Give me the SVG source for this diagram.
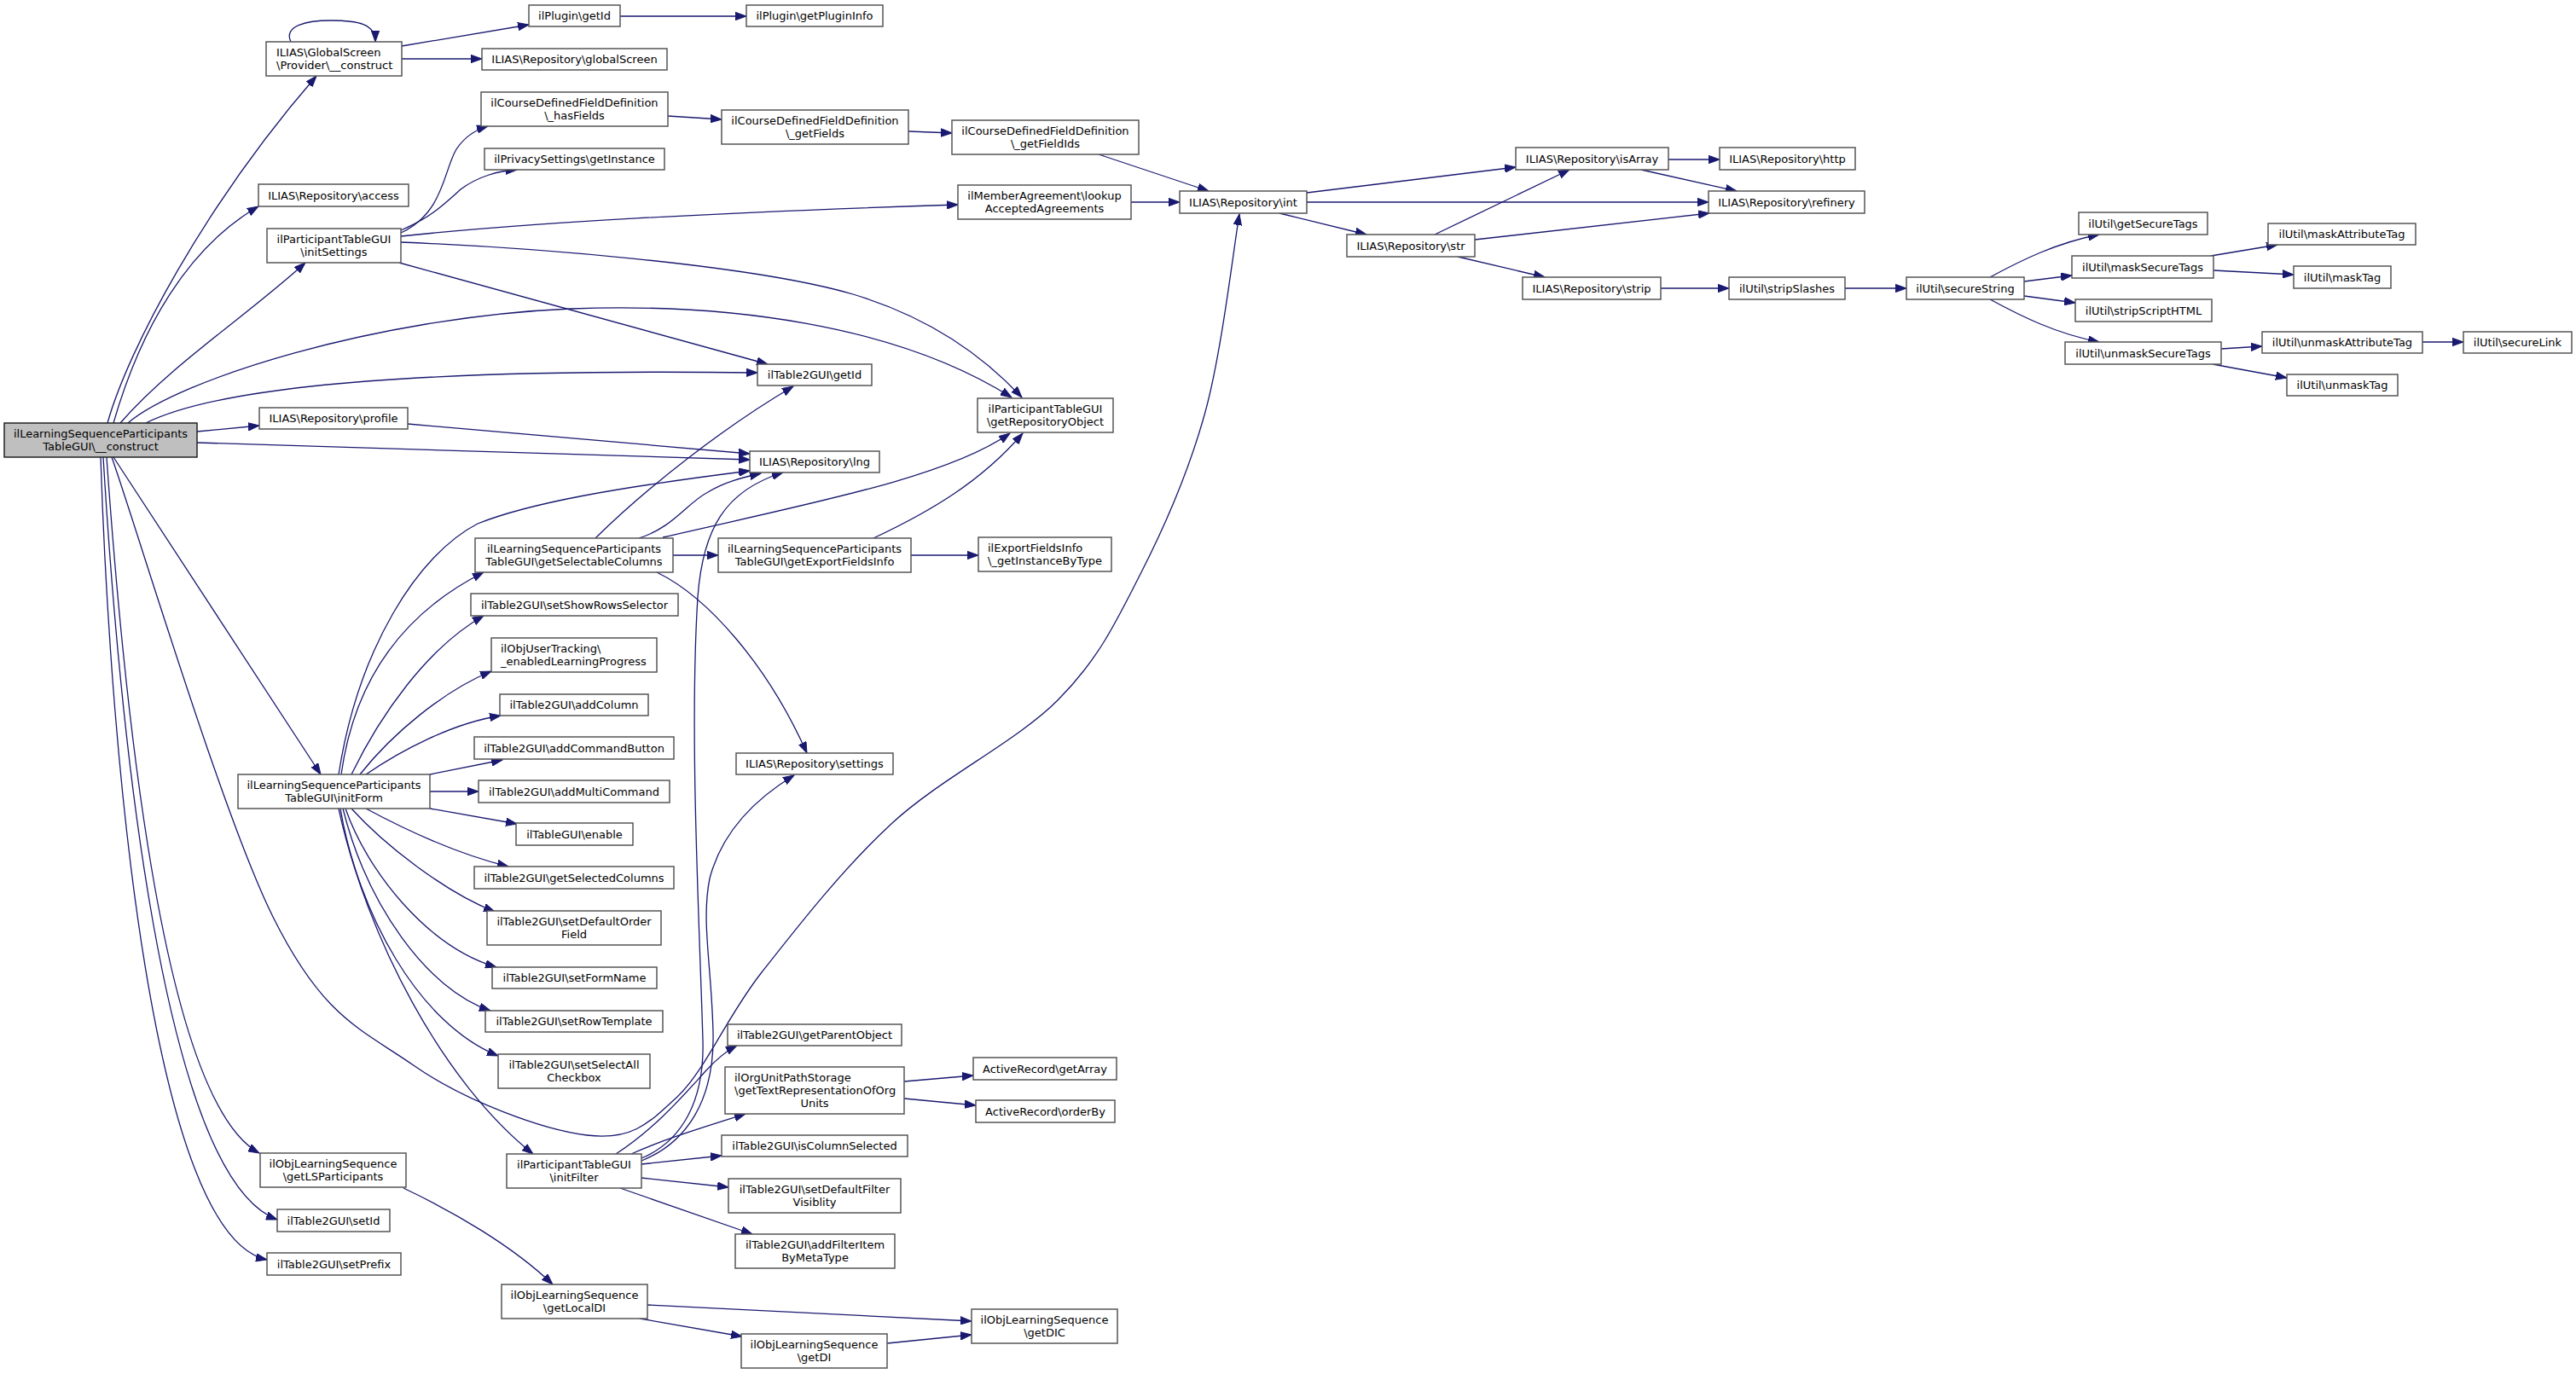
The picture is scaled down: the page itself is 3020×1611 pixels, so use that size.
<svg xmlns="http://www.w3.org/2000/svg" width="3020" height="1611" viewBox="0 0 3020 1611">
<style>
.n rect{fill:#ffffff;stroke:#555555;stroke-width:1.5}
.r rect{fill:#bfbfbf;stroke:#222222;stroke-width:1.5}
text{font-family:"DejaVu Sans","Liberation Sans",sans-serif;font-size:13px;fill:#000}
.c{text-anchor:middle}
#edges path{fill:none;stroke:#191970;stroke-width:1.3;marker-end:url(#a)}
</style>
<defs>
<marker id="a" markerUnits="userSpaceOnUse" markerWidth="14" markerHeight="10" refX="13" refY="5" orient="auto" viewBox="0 0 14 10">
<path d="M0,0.3 L13,5 L0,9.7 Z" fill="#191970" stroke="#191970" stroke-width="1"/>
</marker>
</defs>
<rect x="0" y="0" width="3020" height="1611" fill="#ffffff"/>
<g id="edges">
<path d="M126,496 C150,410 240,240 371,89"/>
<path d="M133,496 C165,385 220,290 303,242"/>
<path d="M141,496 C200,428 290,370 358,308"/>
<path d="M150,496 C210,445 440,372 669,362 C850,355 1050,380 1186,466"/>
<path d="M171,496 C260,452 500,432 888,437"/>
<path d="M231,506 L304,499"/>
<path d="M231,519 L879,539"/>
<path d="M133,536 L376,908"/>
<path d="M125,536 C145,820 190,1290 304,1352"/>
<path d="M121,536 C140,850 190,1380 325,1430"/>
<path d="M118,536 C130,900 180,1450 313,1477"/>
<path d="M131,536 C162.5,625.8 261,956.2 320,1075 C379,1193.8 423.4,1206.3 484.7,1249 C546,1291.7 636.6,1324.7 688,1331 C739.4,1337.3 758.8,1318.8 793,1287 C827.2,1255.2 850.8,1193.7 893,1140 C935.2,1086.3 988.2,1018.2 1046,965 C1103.8,911.8 1191.5,869.7 1240,821 C1288.5,772.3 1308.2,729.3 1337,673 C1365.8,616.7 1393.7,553.2 1413,483 C1432.3,412.8 1446.3,290.5 1453,251"/>
<path d="M341,49 C332,30 360,24 388,24 C420,24 440,28 440,49"/>
<path d="M471,54 L620,29"/>
<path d="M471,69 L565,69"/>
<path d="M727,19 L875,19"/>
<path d="M470,273 C520,250 520,200 535,175 C545,160 558,152 572,148"/>
<path d="M470,270 C505,255 520,240 540,222 C560,207 585,200 606,199"/>
<path d="M470,277 C650,258 900,247 1123,240"/>
<path d="M470,284 C620,290 880,310 1000,345 C1100,375 1160,425 1198,466"/>
<path d="M468,308 L900,427"/>
<path d="M783,136 L846,140"/>
<path d="M1065,154 L1116,156"/>
<path d="M1288,181 L1417,224"/>
<path d="M1326,237 L1383,237"/>
<path d="M1532,226 L1777,196"/>
<path d="M1532,237 L2003,237"/>
<path d="M1500,250 L1602,275"/>
<path d="M1682,275 L1840,199"/>
<path d="M1729,281 L2004,250"/>
<path d="M1709,301 L1811,325"/>
<path d="M1956,187 L2016,187"/>
<path d="M1924,199 L2036,224"/>
<path d="M1947,338 L2027,338"/>
<path d="M2163,338 L2235,338"/>
<path d="M2333,325 C2370,305 2410,285 2461,275"/>
<path d="M2373,330 L2429,323"/>
<path d="M2373,347 L2433,355"/>
<path d="M2333,351 C2370,371 2410,391 2461,401"/>
<path d="M2592,300 L2670,287"/>
<path d="M2595,317 L2689,322"/>
<path d="M2604,409 L2652,406"/>
<path d="M2594,427 L2681,443"/>
<path d="M2840,401 L2888,401"/>
<path d="M478,497 L879,532"/>
<path d="M397,908 C420,760 490,650 560,614 C620,590 720,572 879,552"/>
<path d="M400,908 C415,800 470,720 567,671"/>
<path d="M412,908 C445,840 500,760 567,722"/>
<path d="M422,908 C460,860 520,810 576,787"/>
<path d="M429,908 C470,880 530,848 587,839"/>
<path d="M504,908 L589,891"/>
<path d="M504,928 L561,928"/>
<path d="M504,948 L606,966"/>
<path d="M429,948 C470,970 530,1000 596,1016"/>
<path d="M412,948 C450,990 520,1045 580,1069"/>
<path d="M405,948 C430,1020 500,1110 582,1134"/>
<path d="M402,948 C430,1060 500,1160 575,1185"/>
<path d="M399,948 C420,1070 490,1200 584,1238"/>
<path d="M397,948 C430,1100 520,1270 625,1353"/>
<path d="M698,631 C760,570 850,500 930,453"/>
<path d="M749,631 C790,618 805,590 830,577 C850,565 870,560 892,555"/>
<path d="M777,630 C950,590 1110,560 1184,508"/>
<path d="M1024,631 C1090,600 1150,565 1199,508"/>
<path d="M789,651 L842,651"/>
<path d="M1068,651 L1147,651"/>
<path d="M770,671 C830,700 900,780 946,883"/>
<path d="M752,1358 C800,1338 826,1290 824,1220 C820,1080 808,860 818,700 C824,620 850,575 918,554"/>
<path d="M752,1361 C805,1340 838,1290 836,1210 C834,1130 822,1080 832,1030 C845,980 880,940 931,909"/>
<path d="M722,1353 C770,1322 805,1280 828,1255 C838,1244 850,1233 864,1226"/>
<path d="M740,1353 C780,1335 830,1320 874,1306"/>
<path d="M752,1365 L846,1355"/>
<path d="M752,1381 L854,1392"/>
<path d="M727,1393 L882,1447"/>
<path d="M1060,1268 L1141,1261"/>
<path d="M1060,1288 L1144,1296"/>
<path d="M473,1393 C530,1420 600,1460 648,1506"/>
<path d="M759,1530 L1139,1549"/>
<path d="M750,1546 L870,1567"/>
<path d="M1040,1575 L1139,1565"/>
</g>
<g id="n0" class="r"><rect x="5" y="496" width="226" height="40"/><text class="c" x="118" y="512.5">ilLearningSequenceParticipants</text><text class="c" x="118" y="527.5">TableGUI\__construct</text></g>
<g id="n1" class="n"><rect x="312" y="49" width="159" height="40"/><text x="324" y="65.5">ILIAS\GlobalScreen</text><text x="324" y="80.5">\Provider\__construct</text></g>
<g id="n2" class="n"><rect x="620" y="6" width="107" height="25"/><text class="c" x="673.5" y="23">ilPlugin\getId</text></g>
<g id="n3" class="n"><rect x="565" y="57" width="217" height="25"/><text class="c" x="673.5" y="74">ILIAS\Repository\globalScreen</text></g>
<g id="n4" class="n"><rect x="564" y="108" width="219" height="40"/><text class="c" x="673.5" y="124.5">ilCourseDefinedFieldDefinition</text><text class="c" x="673.5" y="139.5">\_hasFields</text></g>
<g id="n5" class="n"><rect x="568" y="174" width="211" height="25"/><text class="c" x="673.5" y="191">ilPrivacySettings\getInstance</text></g>
<g id="n6" class="n"><rect x="303" y="216" width="176" height="26"/><text class="c" x="391" y="233.5">ILIAS\Repository\access</text></g>
<g id="n7" class="n"><rect x="313" y="268" width="157" height="40"/><text class="c" x="391.5" y="284.5">ilParticipantTableGUI</text><text class="c" x="391.5" y="299.5">\initSettings</text></g>
<g id="n8" class="n"><rect x="304" y="478" width="174" height="25"/><text class="c" x="391" y="495">ILIAS\Repository\profile</text></g>
<g id="n9" class="n"><rect x="875" y="6" width="160" height="25"/><text class="c" x="955" y="23">ilPlugin\getPluginInfo</text></g>
<g id="n10" class="n"><rect x="846" y="129" width="219" height="40"/><text class="c" x="955.5" y="145.5">ilCourseDefinedFieldDefinition</text><text class="c" x="955.5" y="160.5">\_getFields</text></g>
<g id="n11" class="n"><rect x="1116" y="141" width="219" height="40"/><text class="c" x="1225.5" y="157.5">ilCourseDefinedFieldDefinition</text><text class="c" x="1225.5" y="172.5">\_getFieldIds</text></g>
<g id="n12" class="n"><rect x="1123" y="217" width="203" height="40"/><text class="c" x="1224.5" y="233.5">ilMemberAgreement\lookup</text><text class="c" x="1224.5" y="248.5">AcceptedAgreements</text></g>
<g id="n13" class="n"><rect x="1383" y="224" width="149" height="26"/><text class="c" x="1457.5" y="241.5">ILIAS\Repository\int</text></g>
<g id="n14" class="n"><rect x="888" y="427" width="134" height="25"/><text class="c" x="955" y="444">ilTable2GUI\getId</text></g>
<g id="n15" class="n"><rect x="1146" y="467" width="159" height="40"/><text class="c" x="1225.5" y="483.5">ilParticipantTableGUI</text><text class="c" x="1225.5" y="498.5">\getRepositoryObject</text></g>
<g id="n16" class="n"><rect x="879" y="529" width="152" height="25"/><text class="c" x="955" y="546">ILIAS\Repository\lng</text></g>
<g id="n17" class="n"><rect x="1777" y="173" width="179" height="26"/><text class="c" x="1866.5" y="190.5">ILIAS\Repository\isArray</text></g>
<g id="n18" class="n"><rect x="2016" y="173" width="159" height="26"/><text class="c" x="2095.5" y="190.5">ILIAS\Repository\http</text></g>
<g id="n19" class="n"><rect x="2003" y="224" width="183" height="26"/><text class="c" x="2094.5" y="241.5">ILIAS\Repository\refinery</text></g>
<g id="n20" class="n"><rect x="1579" y="275" width="150" height="26"/><text class="c" x="1654" y="292.5">ILIAS\Repository\str</text></g>
<g id="n21" class="n"><rect x="1785" y="325" width="162" height="26"/><text class="c" x="1866" y="342.5">ILIAS\Repository\strip</text></g>
<g id="n22" class="n"><rect x="2027" y="325" width="136" height="26"/><text class="c" x="2095" y="342.5">ilUtil\stripSlashes</text></g>
<g id="n23" class="n"><rect x="2235" y="325" width="138" height="26"/><text class="c" x="2304" y="342.5">ilUtil\secureString</text></g>
<g id="n24" class="n"><rect x="2437" y="249" width="151" height="26"/><text class="c" x="2512.5" y="266.5">ilUtil\getSecureTags</text></g>
<g id="n25" class="n"><rect x="2429" y="300" width="166" height="26"/><text class="c" x="2512" y="317.5">ilUtil\maskSecureTags</text></g>
<g id="n26" class="n"><rect x="2659" y="262" width="173" height="25"/><text class="c" x="2745.5" y="279">ilUtil\maskAttributeTag</text></g>
<g id="n27" class="n"><rect x="2689" y="312" width="114" height="26"/><text class="c" x="2746" y="329.5">ilUtil\maskTag</text></g>
<g id="n28" class="n"><rect x="2433" y="351" width="160" height="26"/><text class="c" x="2513" y="368.5">ilUtil\stripScriptHTML</text></g>
<g id="n29" class="n"><rect x="2421" y="401" width="183" height="26"/><text class="c" x="2512.5" y="418.5">ilUtil\unmaskSecureTags</text></g>
<g id="n30" class="n"><rect x="2652" y="389" width="188" height="25"/><text class="c" x="2746" y="406">ilUtil\unmaskAttributeTag</text></g>
<g id="n31" class="n"><rect x="2888" y="389" width="127" height="25"/><text class="c" x="2951.5" y="406">ilUtil\secureLink</text></g>
<g id="n32" class="n"><rect x="2681" y="439" width="130" height="25"/><text class="c" x="2746" y="456">ilUtil\unmaskTag</text></g>
<g id="n33" class="n"><rect x="557" y="631" width="232" height="40"/><text class="c" x="673" y="647.5">ilLearningSequenceParticipants</text><text class="c" x="673" y="662.5">TableGUI\getSelectableColumns</text></g>
<g id="n34" class="n"><rect x="552" y="696" width="243" height="26"/><text class="c" x="673.5" y="713.5">ilTable2GUI\setShowRowsSelector</text></g>
<g id="n35" class="n"><rect x="576" y="748" width="194" height="40"/><text x="587" y="764.5">ilObjUserTracking\</text><text x="587" y="779.5">_enabledLearningProgress</text></g>
<g id="n36" class="n"><rect x="586" y="814" width="174" height="25"/><text class="c" x="673" y="831">ilTable2GUI\addColumn</text></g>
<g id="n37" class="n"><rect x="556" y="864" width="234" height="26"/><text class="c" x="673" y="881.5">ilTable2GUI\addCommandButton</text></g>
<g id="n38" class="n"><rect x="279" y="908" width="225" height="40"/><text class="c" x="391.5" y="924.5">ilLearningSequenceParticipants</text><text class="c" x="391.5" y="939.5">TableGUI\initForm</text></g>
<g id="n39" class="n"><rect x="561" y="915" width="224" height="26"/><text class="c" x="673" y="932.5">ilTable2GUI\addMultiCommand</text></g>
<g id="n40" class="n"><rect x="605" y="965" width="137" height="26"/><text class="c" x="673.5" y="982.5">ilTableGUI\enable</text></g>
<g id="n41" class="n"><rect x="556" y="1016" width="234" height="26"/><text class="c" x="673" y="1033.5">ilTable2GUI\getSelectedColumns</text></g>
<g id="n42" class="n"><rect x="571" y="1068" width="204" height="40"/><text class="c" x="673" y="1084.5">ilTable2GUI\setDefaultOrder</text><text class="c" x="673" y="1099.5">Field</text></g>
<g id="n43" class="n"><rect x="577" y="1134" width="193" height="25"/><text class="c" x="673.5" y="1151">ilTable2GUI\setFormName</text></g>
<g id="n44" class="n"><rect x="569" y="1185" width="208" height="25"/><text class="c" x="673" y="1202">ilTable2GUI\setRowTemplate</text></g>
<g id="n45" class="n"><rect x="584" y="1236" width="178" height="40"/><text class="c" x="673" y="1252.5">ilTable2GUI\setSelectAll</text><text class="c" x="673" y="1267.5">Checkbox</text></g>
<g id="n46" class="n"><rect x="305" y="1352" width="171" height="40"/><text class="c" x="390.5" y="1368.5">ilObjLearningSequence</text><text class="c" x="390.5" y="1383.5">\getLSParticipants</text></g>
<g id="n47" class="n"><rect x="594" y="1353" width="158" height="40"/><text class="c" x="673" y="1369.5">ilParticipantTableGUI</text><text class="c" x="673" y="1384.5">\initFilter</text></g>
<g id="n48" class="n"><rect x="325" y="1418" width="132" height="26"/><text class="c" x="391" y="1435.5">ilTable2GUI\setId</text></g>
<g id="n49" class="n"><rect x="313" y="1469" width="157" height="26"/><text class="c" x="391.5" y="1486.5">ilTable2GUI\setPrefix</text></g>
<g id="n50" class="n"><rect x="588" y="1506" width="171" height="40"/><text class="c" x="673.5" y="1522.5">ilObjLearningSequence</text><text class="c" x="673.5" y="1537.5">\getLocalDI</text></g>
<g id="n51" class="n"><rect x="842" y="631" width="226" height="40"/><text class="c" x="955" y="647.5">ilLearningSequenceParticipants</text><text class="c" x="955" y="662.5">TableGUI\getExportFieldsInfo</text></g>
<g id="n52" class="n"><rect x="1147" y="630" width="156" height="40"/><text x="1158" y="646.5">ilExportFieldsInfo</text><text x="1158" y="661.5">\_getInstanceByType</text></g>
<g id="n53" class="n"><rect x="863" y="883" width="184" height="25"/><text class="c" x="955" y="900">ILIAS\Repository\settings</text></g>
<g id="n54" class="n"><rect x="853" y="1201" width="204" height="25"/><text class="c" x="955" y="1218">ilTable2GUI\getParentObject</text></g>
<g id="n55" class="n"><rect x="850" y="1251" width="210" height="55"/><text x="861" y="1267.5">ilOrgUnitPathStorage</text><text x="861" y="1282.5">\getTextRepresentationOfOrg</text><text class="c" x="955" y="1297.5">Units</text></g>
<g id="n56" class="n"><rect x="1141" y="1240" width="168" height="26"/><text class="c" x="1225" y="1257.5">ActiveRecord\getArray</text></g>
<g id="n57" class="n"><rect x="1144" y="1290" width="163" height="26"/><text class="c" x="1225.5" y="1307.5">ActiveRecord\orderBy</text></g>
<g id="n58" class="n"><rect x="846" y="1331" width="218" height="25"/><text class="c" x="955" y="1348">ilTable2GUI\isColumnSelected</text></g>
<g id="n59" class="n"><rect x="854" y="1382" width="202" height="40"/><text class="c" x="955" y="1398.5">ilTable2GUI\setDefaultFilter</text><text class="c" x="955" y="1413.5">Visiblity</text></g>
<g id="n60" class="n"><rect x="862" y="1447" width="187" height="40"/><text class="c" x="955.5" y="1463.5">ilTable2GUI\addFilterItem</text><text class="c" x="955.5" y="1478.5">ByMetaType</text></g>
<g id="n61" class="n"><rect x="1139" y="1535" width="171" height="40"/><text class="c" x="1224.5" y="1551.5">ilObjLearningSequence</text><text class="c" x="1224.5" y="1566.5">\getDIC</text></g>
<g id="n62" class="n"><rect x="869" y="1564" width="171" height="40"/><text class="c" x="954.5" y="1580.5">ilObjLearningSequence</text><text class="c" x="954.5" y="1595.5">\getDI</text></g>
</svg>
